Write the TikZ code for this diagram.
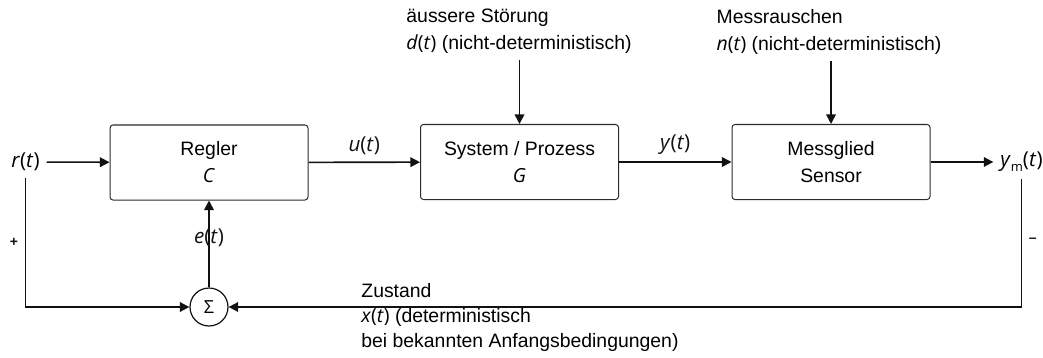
\documentclass[tikz,border=0pt]{standalone}
\usepackage{fontspec}
\setmainfont{Liberation Sans}
\newfontfamily\varfont{Open Sans}
\usetikzlibrary{arrows.meta, positioning, calc}
\definecolor{wireblk}{HTML}{111111}
\definecolor{boxedge}{HTML}{2B2B2B}
\newcommand{\sig}[1]{{\varfont\textit{#1}(\textit{t})}}
\newcommand{\sigsub}[2]{{\varfont\textit{#1}\raisebox{-2.5pt}{\fontsize{6.5}{7}\selectfont #2}(\textit{t})}}
\newcommand{\blkfont}{\fontsize{9.7}{13.5}\selectfont}

\begin{document}
\begin{tikzpicture}[
  x=0.5pt, y=-0.5pt,
  >={Triangle[length=4.8pt, width=4.8pt]},
  block/.style={draw=boxedge, line width=0.5pt, rounded corners=1.5pt,
    minimum width=99pt, minimum height=37.5pt, align=center, font=\blkfont},
  wire/.style={wireblk, line width=0.8pt},
  sigtext/.style={font=\fontsize{10.3}{13}\selectfont},
  note/.style={align=left, inner sep=0pt, font=\blkfont},
  sign/.style={font=\fontsize{7}{8}\selectfont\bfseries},
]

% Frame of the page
\useasboundingbox (0,0) rectangle (1043,358);

% === Blocks ===
\node[block] (regler) at (209,162.5) {Regler\\{\varfont\textit{C}}};
\node[block] (system) at (519.5,162) {System / Prozess\\{\varfont\textit{G}}};
\node[block] (sensor) at (831,162) {Messglied\\Sensor};

% Sum point
\node[draw=wireblk, line width=0.6pt, circle, minimum size=19pt, inner sep=0pt,
  font=\varfont\fontsize{9}{10}\selectfont] (sum) at (209,307) {Σ};

% Signals in and out
\node[sigtext] (ref) at (25.5,162) {\sig{r}};
\node[sigtext] (meas) at (1021.5,162) {\sigsub{y}{m}};

% Disturbances from above
\node[note, anchor=north] (dist) at (519,9)
  {äussere Störung\\\sig{d} (nicht-deterministisch)};
\node[note, anchor=north] (noise) at (829,9)
  {Messrauschen\\\sig{n} (nicht-deterministisch)};

% Feedback text
\node[note, anchor=north west, font=\fontsize{9.7}{12.5}\selectfont] (state) at (361,283)
  {Zustand\\\sig{x} (deterministisch\\bei bekannten Anfangsbedingungen)};

% === Forward path ===
\draw[wire, ->] (ref) -- (regler);
\draw[wire, ->] (regler) -- (system)
  node[midway, above, sigtext] {\sig{u}};
\draw[wire, ->] (system) -- (sensor)
  node[midway, above, sigtext] {\sig{y}};
\draw[wire, ->] (sensor) -- (meas);

% === Disturbance arrows ===
\draw[wire, ->] ([yshift=-3pt]dist.south -| system.north) -- (system.north);
\draw[wire, ->] ([yshift=-3pt]noise.south -| sensor.north) -- (sensor.north);

% === Feedback loop ===
\draw[wire, ->] (ref.south) |- (sum)
  node[pos=0.25, left, sign] {+};
\draw[wire, ->] (meas.south) |- (sum)
  node[pos=0.24, right, sign] {–};
\draw[wire, ->] (sum) -- (regler)
  node[pos=0.57, sigtext] {\sig{e}};

\end{tikzpicture}
\end{document}
